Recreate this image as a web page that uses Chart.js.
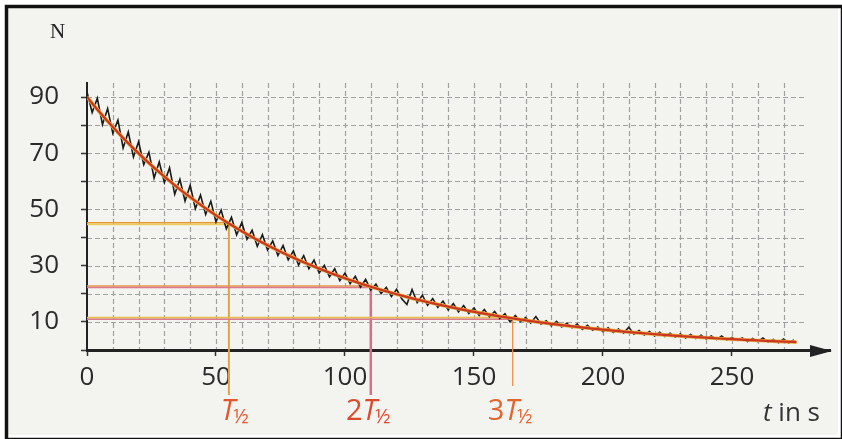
<!DOCTYPE html>
<html>
<head>
<meta charset="utf-8">
<script src="https://cdn.jsdelivr.net/npm/chart.js@4.4.1/dist/chart.umd.min.js"></script>
<style>
  html, body { margin: 0; padding: 0; background: #fff; }
  canvas { display: block; }
</style>
</head>
<body>
<canvas id="decayChart" width="842" height="439"></canvas>
<script>
// measured counts N, one reading every 2 s
const measureTimes = [
  0, 2, 4, 6, 8, 10, 12, 14, 16, 18, 20, 22, 24, 26, 28, 30, 32, 34, 36, 38,
  40, 42, 44, 46, 48, 50, 52, 54, 56, 58, 60, 62, 64, 66, 68, 70, 72, 74, 76, 78,
  80, 82, 84, 86, 88, 90, 92, 94, 96, 98, 100, 102, 104, 106, 108, 110, 112, 114, 116, 118,
  120, 122, 124, 126, 128, 130, 132, 134, 136, 138, 140, 142, 144, 146, 148, 150, 152, 154, 156, 158,
  160, 162, 164, 166, 168, 170, 172, 174, 176, 178, 180, 182, 184, 186, 188, 190, 192, 194, 196, 198,
  200, 202, 204, 206, 208, 210, 212, 214, 216, 218, 220, 222, 224, 226, 228, 230, 232, 234, 236, 238,
  240, 242, 244, 246, 248, 250, 252, 254, 256, 258, 260, 262, 264, 266, 268, 270, 272, 274
];
const measureCounts = [
  91.8, 84.5, 89.6, 80.2, 85.9, 77.1, 81.8, 71.9, 77.6, 68.7, 74.1, 66.0, 70.4, 61.2, 66.9, 59.6, 64.8, 55.4, 60.7, 53.0,
  58.6, 50.3, 55.1, 48.2, 52.9, 45.6, 49.8, 43.1, 47.2, 41.0, 45.3, 39.4, 42.6, 36.9, 41.0, 35.6, 38.8, 33.6, 37.2, 32.1,
  35.3, 30.2, 33.6, 28.9, 32.0, 27.4, 30.1, 26.0, 28.9, 24.7, 27.4, 23.6, 26.2, 22.4, 25.1, 21.3, 23.4, 20.1, 22.3, 19.0,
  21.6, 18.2, 16.2, 21.5, 16.9, 19.5, 15.9, 18.3, 15.2, 17.4, 14.3, 16.5, 13.6, 15.8, 13.0, 14.9, 12.3, 14.4, 11.8, 13.7,
  11.2, 12.9, 10.0, 12.3, 10.1, 11.5, 9.6, 11.9, 9.2, 10.4, 8.6, 10.2, 8.2, 9.5, 7.9, 9.2, 7.3, 8.8, 7.0, 8.2,
  6.5, 7.9, 6.2, 7.5, 6.0, 8.1, 5.6, 6.9, 5.3, 6.6, 5.0, 6.3, 4.8, 6.0, 4.6, 5.7, 4.3, 5.5, 4.1, 5.3,
  3.9, 5.0, 3.7, 5.0, 3.5, 4.5, 3.4, 4.3, 3.0, 4.1, 3.0, 4.3, 2.8, 3.8, 2.6, 3.9, 2.5, 3.6
];

// fitted decay curve, read every 5 s
const fitTimes = [
  0, 5, 10, 15, 20, 25, 30, 35, 40, 45, 50, 55, 60, 65, 70, 75, 80, 85, 90, 95,
  100, 105, 110, 115, 120, 125, 130, 135, 140, 145, 150, 155, 160, 165, 170, 175, 180, 185, 190, 195,
  200, 205, 210, 215, 220, 225, 230, 235, 240, 245, 250, 255, 260, 265, 270, 275
];
const fitCounts = [
  90, 84.5, 79.34, 74.49, 69.95, 65.67, 61.66, 57.9, 54.36, 51.04, 47.92, 45.0, 42.25, 39.67, 37.25, 34.97, 32.84, 30.83, 28.95, 27.18,
  25.52, 23.96, 22.5, 21.12, 19.84, 18.62, 17.49, 16.42, 15.42, 14.47, 13.59, 12.76, 11.98, 11.25, 10.56, 9.92, 9.31, 8.74, 8.21, 7.71,
  7.24, 6.8, 6.38, 5.99, 5.63, 5.28, 4.96, 4.66, 4.37, 4.1, 3.85, 3.62, 3.4, 3.19, 2.99, 2.81
];

// half-life marks
const halfTimes = [55, 110, 165];
const halfCounts = [45, 22.5, 11.25];
const halfPrefix = ["", "2", "3"];

const xTickLabels = [0, 50, 100, 150, 200, 250];
const yTickLabels = [10, 30, 50, 70, 90];

const FONT = "'Open Sans', 'Noto Sans', sans-serif";

/* ===== half-life line styles ===== */
const hTop = ["#e39632", "#e29a48", "#e8bf4e"];
const hBottom = ["#ebcd5e", "#dc7890", "#dc7890"];
const vColor = ["#dba547", "#d66f8a", "#ee8a44"];
const vWidth = [2, 2.5, 1.2];
const labelColor = ["#e4572e", "#dc4a2e", "#e2642e"];

const decorations = {
  id: "decorations",
  beforeDraw(chart) {
    const ctx = chart.ctx;
    const x = chart.scales.x, y = chart.scales.y;
    ctx.save();
    ctx.fillStyle = "#ffffff";
    ctx.fillRect(0, 0, chart.width, chart.height);
    ctx.fillStyle = "#f3f3f0";
    ctx.fillRect(8, 8, chart.width - 12, chart.height - 12);
    ctx.strokeStyle = "#111";
    ctx.lineWidth = 3.5;
    ctx.strokeRect(6.5, 6.5, chart.width - 6, chart.height - 6);

    // dashed grid
    ctx.strokeStyle = "#a0a0a0";
    ctx.lineWidth = 1.2;
    ctx.setLineDash([5, 3]);
    const yTop = y.getPixelForValue(95);
    for (let t = 10; t <= 270; t += 10) {
      const px = Math.round(x.getPixelForValue(t)) + 0.5;
      ctx.beginPath();
      ctx.moveTo(px, yTop);
      ctx.lineTo(px, y.getPixelForValue(0));
      ctx.stroke();
    }
    const xEnd = x.getPixelForValue(278);
    for (let n = 10; n <= 90; n += 10) {
      const py = Math.round(y.getPixelForValue(n)) + 0.5;
      ctx.beginPath();
      ctx.moveTo(x.getPixelForValue(0), py);
      ctx.lineTo(xEnd, py);
      ctx.stroke();
    }
    ctx.restore();
  },
  beforeDatasetsDraw(chart) {
    const ctx = chart.ctx;
    const x = chart.scales.x, y = chart.scales.y;
    const x0 = x.getPixelForValue(0);
    ctx.save();
    halfTimes.forEach((t, i) => {
      const px = x.getPixelForValue(t);
      const py = y.getPixelForValue(halfCounts[i]);
      ctx.lineWidth = 1.6;
      ctx.strokeStyle = hTop[i];
      ctx.beginPath(); ctx.moveTo(x0, py - 0.8); ctx.lineTo(px, py - 0.8); ctx.stroke();
      ctx.strokeStyle = hBottom[i];
      ctx.beginPath(); ctx.moveTo(x0, py + 0.8); ctx.lineTo(px, py + 0.8); ctx.stroke();
      ctx.lineWidth = vWidth[i];
      ctx.strokeStyle = vColor[i];
      ctx.beginPath(); ctx.moveTo(px, py); ctx.lineTo(px, chart.chartArea.bottom + (i === 2 ? 36 : 45)); ctx.stroke();
    });
    ctx.restore();
  },
  afterDraw(chart) {
    const ctx = chart.ctx;
    const x = chart.scales.x;
    const area = chart.chartArea;
    ctx.save();
    // arrow head on time axis
    ctx.fillStyle = "#222";
    ctx.beginPath();
    ctx.moveTo(area.right + 2, area.bottom + 1);
    ctx.lineTo(area.right - 20, area.bottom - 5);
    ctx.lineTo(area.right - 20, area.bottom + 7);
    ctx.closePath();
    ctx.fill();

    // half-life labels
    ctx.textBaseline = "alphabetic";
    halfTimes.forEach((t, i) => {
      const px = x.getPixelForValue(t);
      const base = 420;
      ctx.fillStyle = labelColor[i];
      ctx.font = "italic 29px " + FONT;
      const tw = ctx.measureText("T").width;
      const tLeft = px - tw / 2 - 1;
      ctx.textAlign = "left";
      ctx.fillText("T", tLeft, base);
      ctx.font = "20px " + FONT;
      ctx.fillText("\u00bd", tLeft + tw - 2, base + 3);
      if (halfPrefix[i]) {
        ctx.font = "29px " + FONT;
        ctx.textAlign = "right";
        ctx.fillText(halfPrefix[i], tLeft, base);
      }
    });

    // axis titles
    ctx.fillStyle = "#333";
    ctx.textAlign = "left";
    ctx.font = "italic 26px " + FONT;
    ctx.fillText("t", 763, 421);
    const tW = ctx.measureText("t ").width;
    ctx.font = "26px " + FONT;
    ctx.fillText("in s", 763 + tW, 421);

    ctx.fillStyle = "#222";
    ctx.font = "21px 'Liberation Serif', serif";
    ctx.fillText("N", 50, 38);
    ctx.restore();
  }
};

new Chart(document.getElementById("decayChart"), {
  type: "line",
  data: {
    datasets: [
      {
        label: "fit",
        data: fitTimes.map((t, i) => ({ x: t, y: fitCounts[i] })),
        borderColor: "#cc3620",
        borderWidth: 2.2,
        pointRadius: 0,
        cubicInterpolationMode: "monotone",
        order: 0
      },
      {
        label: "fit glow",
        data: fitTimes.map((t, i) => ({ x: t, y: fitCounts[i] })),
        borderColor: "#e8b548",
        borderWidth: 3.6,
        pointRadius: 0,
        cubicInterpolationMode: "monotone",
        order: 1
      },
      {
        label: "N",
        data: measureTimes.map((t, i) => ({ x: t, y: measureCounts[i] })),
        borderColor: "#1a1a1a",
        borderWidth: 1.6,
        pointRadius: 0,
        tension: 0,
        order: 2
      }
    ]
  },
  options: {
    responsive: false,
    devicePixelRatio: 1,
    animation: false,
    layout: { padding: { left: 0, top: 83, right: 12, bottom: 0 } },
    plugins: {
      legend: { display: false },
      tooltip: { enabled: false }
    },
    scales: {
      x: {
        type: "linear",
        min: 0,
        max: 288,
        afterBuildTicks: s => { s.ticks = s.ticks.filter(t => xTickLabels.includes(t.value)); },
        afterFit: s => { s.height = 89; },
        ticks: {
          stepSize: 50,
          includeBounds: false,
          padding: 6,
          maxRotation: 0,
          autoSkip: false,
          color: "#2a2a2a",
          font: { family: FONT, size: 26 }
        },
        grid: { drawOnChartArea: false, drawTicks: true, tickLength: 6, tickColor: "#333", tickWidth: 1.5 },
        border: { color: "#222", width: 3 }
      },
      y: {
        min: 0,
        max: 95,
        afterBuildTicks: s => { s.ticks = s.ticks.filter(t => t.value % 10 === 0); },
        afterFit: s => { s.width = 87; },
        ticks: {
          stepSize: 10,
          includeBounds: false,
          padding: 22,
          autoSkip: false,
          color: "#2a2a2a",
          font: { family: FONT, size: 26 },
          callback: v => (yTickLabels.includes(v) ? String(v) : "")
        },
        grid: { drawOnChartArea: false, drawTicks: true, tickLength: 6, tickColor: "#333", tickWidth: 1.5 },
        border: { color: "#222", width: 2 }
      }
    }
  },
  plugins: [decorations]
});
</script>
</body>
</html>
